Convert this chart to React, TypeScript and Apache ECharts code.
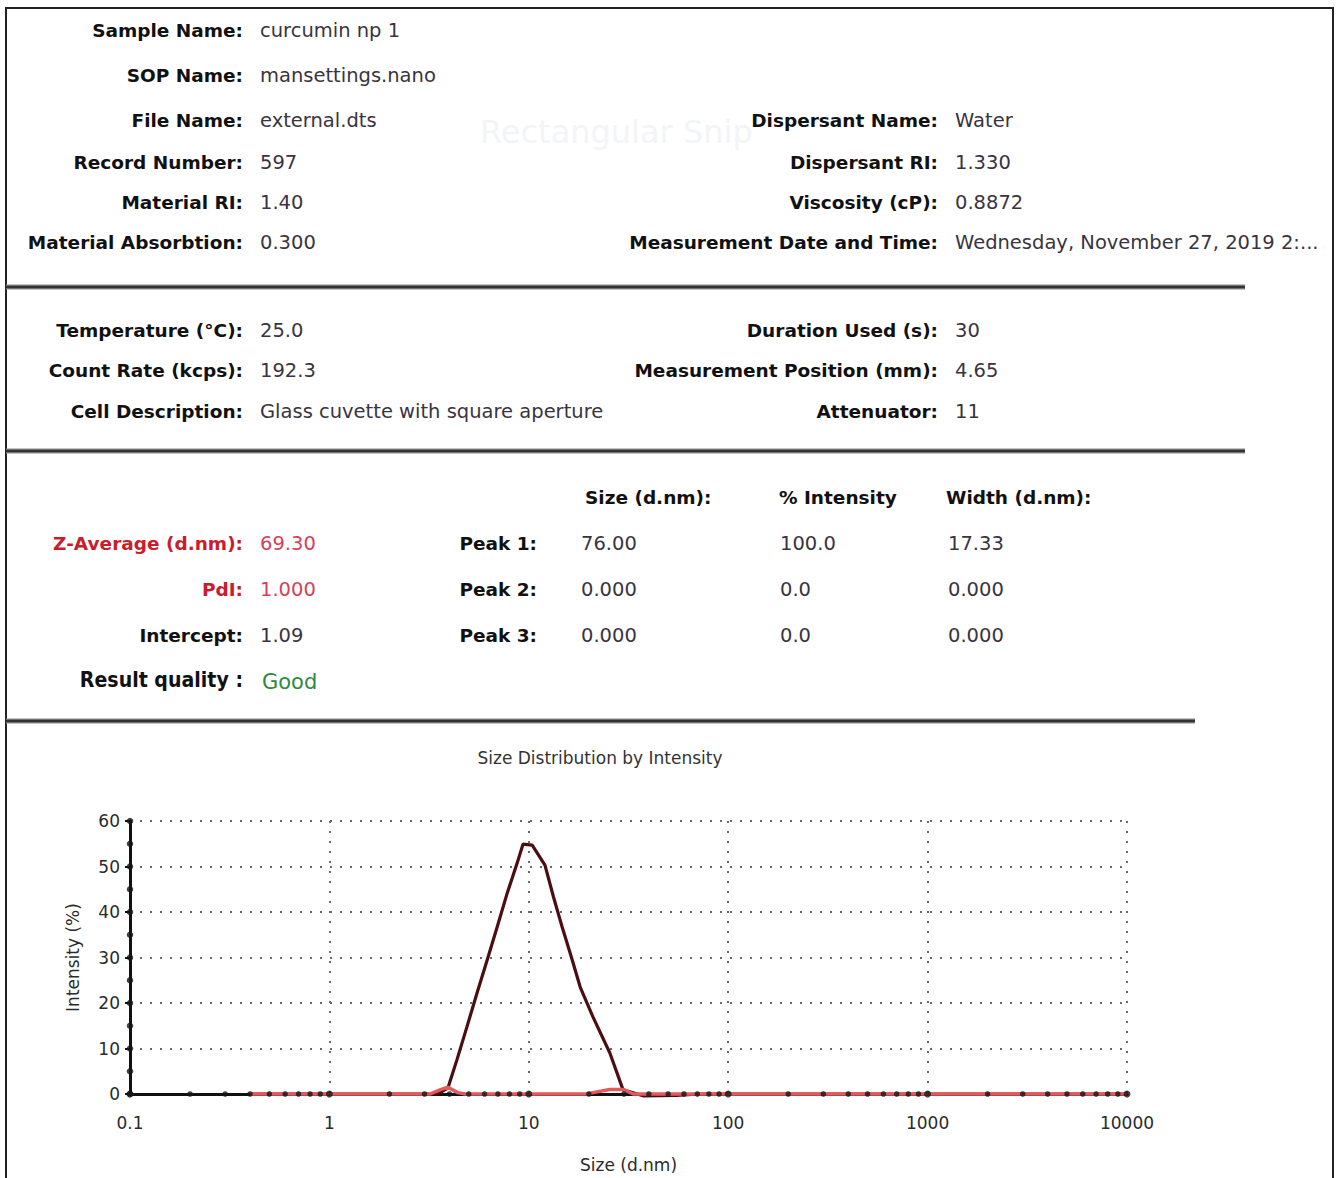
import React, { useEffect, useRef } from "react";
import * as echarts from "echarts";

// ---- curve data (size in d.nm, intensity in %) ----
const sizeMain = [0.4, 3.47, 3.93, 4.36, 4.89, 5.5, 6.19, 6.94, 7.8, 8.75, 9.35, 10.4, 12.05, 13.3, 14.7, 16.5, 18.1, 21.0, 25.5, 29.7, 37.4, 55, 72, 10000];
const intensityMain = [0, 0, 1.3, 7.5, 14.7, 22.2, 29.5, 36.7, 44.2, 50.8, 54.9, 54.7, 50.3, 43.3, 36.7, 29.5, 23.5, 16.9, 9.0, 0.9, -0.4, -0.3, 0, 0];
const sizeBase = [0.4, 3.2, 3.58, 3.93, 4.4, 4.8, 19.5, 21.0, 25.5, 29.7, 33.4, 10000];
const intensityBase = [0, 0, 0.9, 1.5, 0.3, 0, 0, 0.3, 1.0, 1.0, 0, 0];

// ---- axis ticks ----
const xMajorTicks = [0.1, 1, 10, 100, 1000, 10000];
const xMinorTicks = [
  0.2, 0.3, 0.4, 0.5, 0.6, 0.7, 0.8, 0.9,
  2, 3, 4, 5, 6, 7, 8, 9,
  20, 30, 40, 50, 60, 70, 80, 90,
  200, 300, 400, 500, 600, 700, 800, 900,
  2000, 3000, 4000, 5000, 6000, 7000, 8000, 9000,
];
const yTickDots = [0, 5, 10, 15, 20, 25, 30, 35, 40, 45, 50, 55, 60];

// ---- report texts ----
const infoLeft = [
  ["Sample Name:", "curcumin np 1"],
  ["SOP Name:", "mansettings.nano"],
  ["File Name:", "external.dts"],
  ["Record Number:", "597"],
  ["Material RI:", "1.40"],
  ["Material Absorbtion:", "0.300"],
];
const infoRight = [
  ["Dispersant Name:", "Water"],
  ["Dispersant RI:", "1.330"],
  ["Viscosity (cP):", "0.8872"],
  ["Measurement Date and Time:", "Wednesday, November 27, 2019 2:..."],
];
const condLeft = [
  ["Temperature (°C):", "25.0"],
  ["Count Rate (kcps):", "192.3"],
  ["Cell Description:", "Glass cuvette with square aperture"],
];
const condRight = [
  ["Duration Used (s):", "30"],
  ["Measurement Position (mm):", "4.65"],
  ["Attenuator:", "11"],
];
const resultHeaders = ["Size (d.nm):", "% Intensity", "Width (d.nm):"];
const resultLeft = [
  ["Z-Average (d.nm):", "69.30"],
  ["PdI:", "1.000"],
  ["Intercept:", "1.09"],
];
const peakNames = ["Peak 1:", "Peak 2:", "Peak 3:"];
const peakSize = ["76.00", "0.000", "0.000"];
const peakIntensity = ["100.0", "0.0", "0.0"];
const peakWidth = ["17.33", "0.000", "0.000"];
const qualityLabel = "Result quality :";
const qualityValue = "Good";
const chartTitle = "Size Distribution by Intensity";

const FONT = "'DejaVu Sans', Verdana, sans-serif";
const LABEL_COLOR = "#111111";
const VALUE_COLOR = "#3a3440";

function txt(text: string, x: number, y: number, opts: any = {}) {
  const align = opts.align || "left";
  return {
    type: "text",
    x,
    y,
    z: 10,
    scaleX: opts.scaleX || 1,
    scaleY: opts.scaleY || 1,
    style: {
      text,
      fill: opts.color || VALUE_COLOR,
      fontSize: opts.size || 19.5,
      fontWeight: opts.bold ? "bold" : "normal",
      fontFamily: FONT,
      align,
      verticalAlign: "middle",
      textAlign: align,
      textVerticalAlign: "middle",
    },
  };
}

function buildGraphics() {
  const g: any[] = [];
  // outer frame
  g.push({
    type: "rect",
    shape: { x: 6, y: 8, width: 1327, height: 1185 },
    style: { fill: "none", stroke: "#222", lineWidth: 2 },
  });
  // faint watermark
  g.push({
    type: "text",
    x: 480,
    y: 132,
    style: {
      text: "Rectangular Snip",
      fill: "#f3f4f7",
      fontSize: 32,
      fontFamily: FONT,
      align: "left",
      verticalAlign: "middle",
      textAlign: "left",
      textVerticalAlign: "middle",
    },
  });
  // separators
  const seps = [
    [287, 1245],
    [451, 1245],
    [721, 1195],
  ];
  seps.forEach(([y, x2]) => {
    g.push({
      type: "line",
      shape: { x1: 6, y1: y, x2, y2: y },
      style: { stroke: "#8a8a8a", lineWidth: 5 },
    });
    g.push({
      type: "line",
      shape: { x1: 6, y1: y, x2, y2: y },
      style: { stroke: "#333", lineWidth: 2.5 },
    });
  });

  const LBL = 18.5;
  const VAL = 19.5;
  // section 1
  const rows1 = [30, 75, 120, 162, 202, 242];
  infoLeft.forEach(([l, v], i) => {
    g.push(txt(l, 243, rows1[i], { align: "right", bold: true, color: LABEL_COLOR, size: LBL }));
    g.push(txt(v, 260, rows1[i], { size: VAL }));
  });
  infoRight.forEach(([l, v], i) => {
    g.push(txt(l, 938, rows1[i + 2], { align: "right", bold: true, color: LABEL_COLOR, size: LBL }));
    g.push(txt(v, 955, rows1[i + 2], { size: VAL }));
  });
  // section 2
  const rows2 = [330, 370, 411];
  condLeft.forEach(([l, v], i) => {
    g.push(txt(l, 243, rows2[i], { align: "right", bold: true, color: LABEL_COLOR, size: LBL }));
    g.push(txt(v, 260, rows2[i], { size: VAL }));
  });
  condRight.forEach(([l, v], i) => {
    g.push(txt(l, 938, rows2[i], { align: "right", bold: true, color: LABEL_COLOR, size: LBL }));
    g.push(txt(v, 955, rows2[i], { size: VAL }));
  });
  // section 3
  const colX = [585, 779, 946];
  resultHeaders.forEach((h, i) => {
    g.push(txt(h, colX[i], 497, { bold: true, color: LABEL_COLOR, size: LBL }));
  });
  const rows3 = [543, 589, 635];
  resultLeft.forEach(([l, v], i) => {
    const red = i < 2;
    g.push(txt(l, 243, rows3[i], { align: "right", bold: true, color: red ? "#c81e2c" : LABEL_COLOR, size: LBL }));
    g.push(txt(v, 260, rows3[i], { color: red ? "#d8405a" : VALUE_COLOR, size: VAL }));
  });
  peakNames.forEach((p, i) => {
    g.push(txt(p, 537, rows3[i], { align: "right", bold: true, color: LABEL_COLOR, size: LBL }));
    g.push(txt(peakSize[i], 581, rows3[i], { size: VAL }));
    g.push(txt(peakIntensity[i], 780, rows3[i], { size: VAL }));
    g.push(txt(peakWidth[i], 948, rows3[i], { size: VAL }));
  });
  g.push(txt(qualityLabel, 243, 680, { align: "right", bold: true, color: LABEL_COLOR, size: 19, scaleY: 1.15 }));
  g.push(txt(qualityValue, 262, 682, { color: "#2f8a3f", size: 21 }));

  // chart title
  g.push(txt(chartTitle, 600, 758, { align: "center", color: "#333", size: 17 }));
  return g;
}

export default function App() {
  const ref = useRef<HTMLDivElement>(null);
  useEffect(() => {
    if (!ref.current) return;
    const chart = echarts.init(ref.current, null, { renderer: "svg" });
    const mainData = sizeMain.map((s, i) => [s, intensityMain[i]]);
    const baseData = sizeBase.map((s, i) => [s, intensityBase[i]]);
    const minorDots = xMinorTicks.map((v) => [v, 0]);
    const majorDots = xMajorTicks.map((v) => [v, 0]);
    const yDots = yTickDots.map((v) => [0.1, v]);
    const axisText = { color: "#2a2a2a", fontSize: 17, fontFamily: FONT };
    chart.setOption({
      animation: false,
      backgroundColor: "#ffffff",
      graphic: buildGraphics(),
      grid: { left: 130, right: 211, top: 821, bottom: 84, containLabel: false },
      xAxis: {
        type: "log",
        logBase: 10,
        min: 0.1,
        max: 10000,
        name: "Size (d.nm)",
        nameLocation: "middle",
        nameGap: 62,
        nameTextStyle: axisText,
        axisLine: { show: true, onZero: false, lineStyle: { color: "#111", width: 3 } },
        axisTick: { show: false },
        minorTick: { show: false },
        axisLabel: {
          ...axisText,
          margin: 20,
          formatter: (v: number) => String(Number(v.toPrecision(6))),
        },
        splitLine: { show: true, lineStyle: { color: "#6a6a6a", width: 2, type: [2, 8] } },
      },
      yAxis: {
        type: "value",
        min: 0,
        max: 60,
        interval: 10,
        name: "Intensity (%)",
        nameLocation: "middle",
        nameGap: 49,
        nameRotate: 90,
        nameTextStyle: axisText,
        axisLine: { show: true, lineStyle: { color: "#111", width: 3 } },
        axisTick: { show: true, length: 5, lineStyle: { color: "#111", width: 2 } },
        axisLabel: { ...axisText, margin: 10 },
        splitLine: { show: true, lineStyle: { color: "#6a6a6a", width: 2, type: [2, 8] } },
      },
      series: [
        {
          type: "line",
          data: mainData,
          showSymbol: false,
          clip: false,
          lineStyle: { color: "#4a0d12", width: 3.2 },
          z: 3,
        },
        {
          type: "line",
          data: baseData,
          showSymbol: false,
          clip: false,
          lineStyle: { color: "#e25a5c", width: 3.5 },
          z: 4,
        },
        {
          type: "scatter",
          data: minorDots,
          symbol: "circle",
          symbolSize: 5.5,
          clip: false,
          itemStyle: { color: "#151515" },
          z: 5,
        },
        {
          type: "scatter",
          data: majorDots,
          symbol: "circle",
          symbolSize: 7,
          clip: false,
          itemStyle: { color: "#151515" },
          z: 5,
        },
        {
          type: "scatter",
          data: yDots,
          symbol: "circle",
          symbolSize: 6.5,
          clip: false,
          itemStyle: { color: "#151515" },
          z: 5,
        },
      ],
    });
    return () => chart.dispose();
  }, []);
  return (
    <div
      ref={ref}
      style={{ position: "absolute", left: 0, top: 0, width: 1338, height: 1178, background: "#fff" }}
    />
  );
}
